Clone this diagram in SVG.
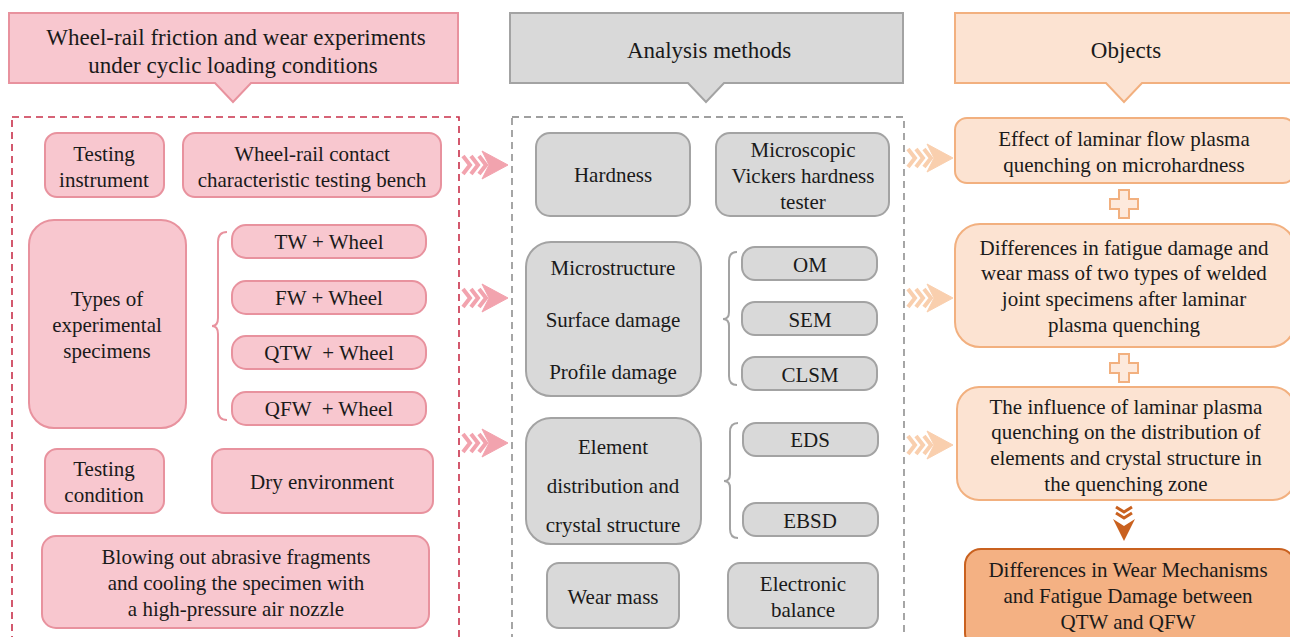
<svg xmlns="http://www.w3.org/2000/svg" width="1290" height="637" viewBox="0 0 1290 637" font-family="Liberation Serif, Times New Roman, serif">
<style>
text{font-size:21px;fill:#1a1a1a;text-anchor:middle;dominant-baseline:central}
.h{font-size:23px}
.pk{fill:#f8c7cf;stroke:#e8929e;stroke-width:2}
.gy{fill:#d9d9d9;stroke:#a3a3a3;stroke-width:2}
.pc{fill:#fce3d2;stroke:#f2b07f;stroke-width:2}
.fin{fill:#f4b183;stroke:#c9611f;stroke-width:2}
.brp{fill:none;stroke:#e8929e;stroke-width:2}
.brg{fill:none;stroke:#a3a3a3;stroke-width:2}
</style>
<defs>
<g id="chev">
<path d="M0,-9 L7,0 L0,9 M8,-9 L15,0 L8,9 M16,-9 L23,0 L16,9" fill="none" stroke-width="4"/>
<path d="M19,-14 L45,0 L19,14 L26,0 Z"/>
</g>
<path id="plus" d="M-5,-14 H5 V-5 H14 V5 H5 V14 H-5 V5 H-14 V-5 H-5 Z" fill="#fde9dc" stroke="#f2b07f" stroke-width="2"/>
</defs>
<rect width="1290" height="637" fill="#ffffff"/>

<g id="col-left-header">
<path class="pk" d="M9,13 H458 V83 H251 L233,102 L215,83 H9 Z"/>
<text class="h" x="236" y="37">Wheel-rail friction and wear experiments</text>
<text class="h" x="233" y="65">under cyclic loading conditions</text>
</g>
<rect id="left-frame" x="12" y="117" width="447" height="530" fill="none" stroke="#c9304a" stroke-width="1.6" stroke-dasharray="7,5"/>

<g id="col-mid-header">
<path class="gy" d="M510,13 H903 V83 H724 L706,102 L688,83 H510 Z"/>
<text class="h" x="709" y="50">Analysis methods</text>
</g>
<rect id="mid-frame" x="512" y="117" width="392" height="530" fill="none" stroke="#808080" stroke-width="1.4" stroke-dasharray="7,5"/>

<g id="col-right-header">
<path class="pc" d="M955,13 H1292 V83 H1142 L1124,102 L1106,83 H955 Z"/>
<text class="h" x="1126" y="50">Objects</text>
</g>

<g id="testing-instrument"><rect class="pk" x="45" y="133" width="119" height="64" rx="12"/><text x="104" y="154">Testing</text><text x="104" y="180">instrument</text></g>
<g id="bench"><rect class="pk" x="183" y="133" width="258" height="64" rx="12"/><text x="312" y="154">Wheel-rail contact</text><text x="312" y="180">characteristic testing bench</text></g>
<g id="specimen-types"><rect class="pk" x="29" y="220" width="157" height="208" rx="25"/><text x="107" y="299">Types of</text><text x="107" y="325">experimental</text><text x="107" y="351">specimens</text></g>
<g id="tw"><rect class="pk" x="232" y="225" width="194" height="33" rx="14"/><text x="329" y="242">TW + Wheel</text></g>
<g id="fw"><rect class="pk" x="232" y="281" width="194" height="33" rx="14"/><text x="329" y="298">FW + Wheel</text></g>
<g id="qtw"><rect class="pk" x="232" y="336" width="194" height="33" rx="14"/><text x="329" y="353" xml:space="preserve">QTW  + Wheel</text></g>
<g id="qfw"><rect class="pk" x="232" y="392" width="194" height="33" rx="14"/><text x="329" y="409" xml:space="preserve">QFW  + Wheel</text></g>
<g id="testing-condition"><rect class="pk" x="45" y="449" width="119" height="64" rx="12"/><text x="104" y="469">Testing</text><text x="104" y="495">condition</text></g>
<g id="dry"><rect class="pk" x="212" y="449" width="221" height="64" rx="12"/><text x="322" y="482">Dry environment</text></g>
<g id="blowing"><rect class="pk" x="42" y="536" width="387" height="92" rx="14"/><text x="236" y="557">Blowing out abrasive fragments</text><text x="236" y="583">and cooling the specimen with</text><text x="236" y="609">a high-pressure air nozzle</text></g>

<g id="hardness"><rect class="gy" x="536" y="133" width="154" height="83" rx="14"/><text x="613" y="175">Hardness</text></g>
<g id="vickers"><rect class="gy" x="716" y="133" width="173" height="83" rx="14"/><text x="803" y="150">Microscopic</text><text x="803" y="176">Vickers hardness</text><text x="803" y="202">tester</text></g>
<g id="micro"><rect class="gy" x="526" y="242" width="175" height="154" rx="25"/><text x="613" y="268">Microstructure</text><text x="613" y="320">Surface damage</text><text x="613" y="372">Profile damage</text></g>
<g id="om"><rect class="gy" x="742" y="247" width="135" height="33" rx="13"/><text x="810" y="265">OM</text></g>
<g id="sem"><rect class="gy" x="742" y="302" width="135" height="33" rx="13"/><text x="810" y="320">SEM</text></g>
<g id="clsm"><rect class="gy" x="742" y="357" width="135" height="33" rx="13"/><text x="810" y="375">CLSM</text></g>
<g id="element"><rect class="gy" x="526" y="418" width="175" height="126" rx="25"/><text x="613" y="447">Element</text><text x="613" y="486">distribution and</text><text x="613" y="525">crystal structure</text></g>
<g id="eds"><rect class="gy" x="743" y="423" width="135" height="33" rx="13"/><text x="810" y="440">EDS</text></g>
<g id="ebsd"><rect class="gy" x="743" y="503" width="135" height="33" rx="13"/><text x="810" y="521">EBSD</text></g>
<g id="wear-mass"><rect class="gy" x="547" y="563" width="132" height="65" rx="12"/><text x="613" y="597">Wear mass</text></g>
<g id="balance"><rect class="gy" x="728" y="563" width="150" height="65" rx="12"/><text x="803" y="584">Electronic</text><text x="803" y="610">balance</text></g>

<g id="obj-hardness"><rect class="pc" x="955" y="118" width="340" height="65" rx="12"/><text x="1124" y="139">Effect of laminar flow plasma</text><text x="1124" y="165">quenching on microhardness</text></g>
<g id="obj-fatigue"><rect class="pc" x="955" y="224" width="340" height="123" rx="25"/><text x="1124" y="248">Differences in fatigue damage and</text><text x="1124" y="273">wear mass of two types of welded</text><text x="1124" y="299">joint specimens after laminar</text><text x="1124" y="325">plasma quenching</text></g>
<g id="obj-elements"><rect class="pc" x="957" y="387" width="338" height="113" rx="22"/><text x="1126" y="407">The influence of laminar plasma</text><text x="1126" y="432">quenching on the distribution of</text><text x="1126" y="458">elements and crystal structure in</text><text x="1126" y="484">the quenching zone</text></g>
<g id="obj-final"><rect class="fin" x="965" y="549" width="330" height="100" rx="16"/><text x="1128" y="570">Differences in Wear Mechanisms</text><text x="1128" y="596">and Fatigue Damage between</text><text x="1128" y="622">QTW and QFW</text></g>

<g id="connectors">
<path class="brp" d="M227,232 Q218,232 218,242 V318 Q218,326 212,326 Q218,326 218,334 V410 Q218,420 227,420"/>
<path class="brg" d="M737,252 Q729,252 729,261 V312 Q729,319 723,319 Q729,319 729,326 V376 Q729,385 737,385"/>
<path class="brg" d="M738,423 Q730,423 730,432 V474 Q730,481 724,481 Q730,481 730,488 V529 Q730,538 738,538"/>
<g fill="#f2a3ae" stroke="#f2a3ae">
<use href="#chev" x="463" y="165"/>
<use href="#chev" x="463" y="298"/>
<use href="#chev" x="463" y="443"/>
</g>
<g fill="#f9cfae" stroke="#f9cfae">
<use href="#chev" x="908" y="158"/>
<use href="#chev" x="908" y="298"/>
<use href="#chev" x="908" y="445"/>
</g>
<use href="#plus" x="1124" y="204"/>
<use href="#plus" x="1124" y="368"/>
<g fill="none" stroke="#c9611f" stroke-width="3">
<path d="M1116,507 L1124,512 L1132,507 M1116,513 L1124,518 L1132,513"/>
</g>
<path d="M1113,519 L1124,526 L1135,519 L1124,541 Z" fill="#c9611f"/>
</g>
</svg>
